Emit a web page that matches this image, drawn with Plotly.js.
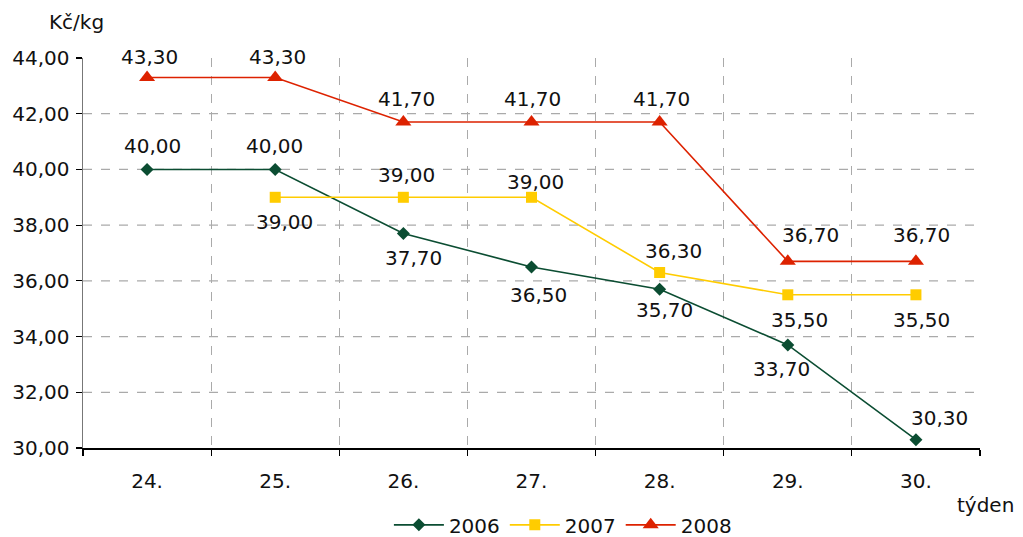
<!DOCTYPE html>
<html>
<head>
<meta charset="utf-8">
<script src="https://cdn.plot.ly/plotly-3.0.1.min.js"></script>
<style>html,body{margin:0;padding:0;background:#fff;}#chart{width:1023px;height:537px;}</style>
</head>
<body>
<div id="chart"></div>
<script>
var weeks = ["24.", "25.", "26.", "27.", "28.", "29.", "30."];
var v2006 = [40.00, 40.00, 37.70, 36.50, 35.70, 33.70, 30.30];
var v2007 = [null, 39.00, 39.00, 39.00, 36.30, 35.50, 35.50];
var v2008 = [43.30, 43.30, 41.70, 41.70, 41.70, 36.70, 36.70];
var yTicks = [30, 32, 34, 36, 38, 40, 42, 44];
var gridVals = [32, 34, 36, 38, 40, 42];

// label offsets in pixels (dx right, dy down) relative to each point
var dx2006 = [5, -1, 10, 7, 5, -6, 24];
var dy2006 = [-23, -23, 24, 28, 21, 24, -22];
var dx2007 = [0, 9, 3, 4, 14, 12, 6];
var dy2007 = [0, 25, -22, -15, -22, 25, 25];
var dx2008 = [2, 2, 3, 1, 2, 23, 6];
var dy2008 = [-21, -21, -23, -23, -23, -26, -26];

function fmt(v) { return v === null ? "" : v.toFixed(2).replace(".", ","); }

var font = {family: "DejaVu Sans, Verdana, sans-serif", size: 20, color: "#111"};

function series(name, vals, color, symbol, size) {
  return {
    x: weeks, y: vals, name: name, type: "scatter", mode: "lines+markers",
    line: {color: color, width: 1.6},
    marker: {color: color, symbol: symbol, size: size},
    connectgaps: false, cliponaxis: false
  };
}

function labels(vals, dx, dy) {
  var out = [];
  vals.forEach(function (v, i) {
    if (v === null) return;
    // on a category axis the annotation x is the category index
    out.push({x: i, y: v, xref: "x", yref: "y", text: fmt(v), showarrow: false,
              xanchor: "center", yanchor: "middle", xshift: dx[i], yshift: -dy[i], font: font});
  });
  return out;
}

var data = [
  series("2006", v2006, "#0b4d32", "diamond", 10),
  series("2007", v2007, "#ffcc00", "square", 11),
  series("2008", v2008, "#dd2200", "triangle-up", 14)
];

var shapes = gridVals.map(function (g) {
  return {type: "line", xref: "paper", yref: "y", x0: 0, x1: 1, y0: g, y1: g,
          line: {color: "#aaaaaa", width: 1.2, dash: "dash"}, layer: "below"};
});

var annotations = [
  {text: "Kč/kg", xref: "paper", yref: "paper", x: -0.007, y: 1.092, xanchor: "center", yanchor: "middle", showarrow: false, font: font},
  {text: "týden", xref: "paper", yref: "paper", x: 1.006, y: -0.146, xanchor: "center", yanchor: "middle", showarrow: false, font: font}
].concat(labels(v2006, dx2006, dy2006), labels(v2007, dx2007, dy2007), labels(v2008, dx2008, dy2008));

var layout = {
  width: 1023, height: 537,
  margin: {l: 83, r: 43, t: 58, b: 89, autoexpand: false},
  paper_bgcolor: "#fff", plot_bgcolor: "#fff",
  font: font,
  showlegend: true,
  legend: {orientation: "h", x: 0.535, xanchor: "center", y: -0.197, yanchor: "middle",
           font: font, itemwidth: 50, tracegroupgap: 0},
  xaxis: {
    type: "category", range: [-0.5, 6.5], tickson: "boundaries",
    ticks: "outside", ticklen: 6, tickcolor: "#000", tickwidth: 1.2,
    showline: true, linecolor: "#000", linewidth: 1.5,
    showgrid: true, gridcolor: "#aaaaaa", gridwidth: 1.2, griddash: "dash",
    tickfont: font, zeroline: false, fixedrange: true, ticklabelstandoff: 14,
    automargin: false
  },
  yaxis: {
    range: [30, 44], tickvals: yTicks, ticktext: yTicks.map(fmt),
    ticks: "outside", ticklen: 6, tickcolor: "#000", tickwidth: 1.2,
    showline: true, linecolor: "#777", linewidth: 1.5,
    showgrid: false, zeroline: false, tickfont: font, fixedrange: true,
    ticklabelstandoff: 2, automargin: false
  },
  shapes: shapes,
  annotations: annotations
};

Plotly.newPlot("chart", data, layout, {displayModeBar: false, staticPlot: true});
</script>
</body>
</html>
